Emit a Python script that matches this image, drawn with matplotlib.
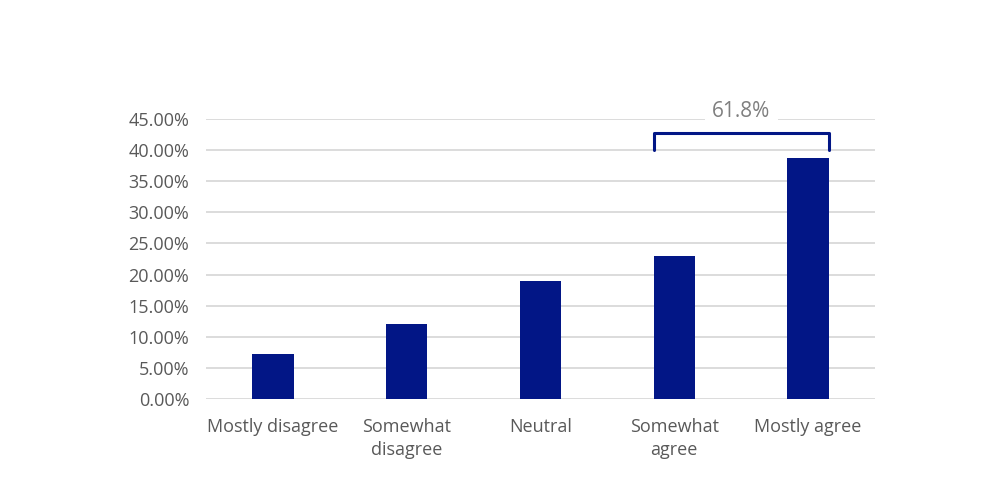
import matplotlib
matplotlib.use("Agg")
import matplotlib.pyplot as plt
from matplotlib.ticker import FuncFormatter

categories = ["Mostly disagree", "Somewhat\ndisagree", "Neutral", "Somewhat\nagree", "Mostly agree"]
values = [7.2, 12.0, 19.0, 23.0, 38.8]
bracket_label = "61.8%"

navy = "#021686"
gray = "#595959"
grid = "#D9D9D9"

plt.rcParams['font.family'] = ['Open Sans', 'DejaVu Sans']

fig = plt.figure(figsize=(10, 5), dpi=100)
ax = fig.add_axes([0.206, 0.202, 0.669, 0.56])
x = list(range(len(categories)))
bw = 0.31
ax.bar(x, values, width=bw, color=navy, zorder=3)
ax.set_xlim(-0.5, len(categories) - 0.5)
ax.set_ylim(0, 45)
ax.set_yticks([i * 5 for i in range(10)])
ax.yaxis.set_major_formatter(FuncFormatter(lambda v, p: f"{v:.2f}%"))
ax.set_xticks(x)
ax.set_xticklabels(categories, fontsize=13, color=gray, linespacing=1.3)
ax.tick_params(axis='y', labelsize=13, labelcolor=gray, length=0, pad=12)
ax.tick_params(axis='x', length=0, pad=14)
ax.grid(axis='y', color=grid, linewidth=1.3, zorder=0)
for s in ax.spines.values():
    s.set_visible(False)

# bracket over the two agree bars
x0 = 3 - bw / 2
x1 = 4 + bw / 2
ytop = 42.8
ybot = 40.0
ax.plot([x0, x0, x1, x1], [ybot, ytop, ytop, ybot], color=navy, linewidth=2.2,
        solid_joinstyle='round', solid_capstyle='round', zorder=4, clip_on=False)
ax.text((x0 + x1) / 2, 46.2, bracket_label, ha='center', va='center', fontsize=15,
        color="#7F7F7F", zorder=3,
        bbox=dict(boxstyle='square,pad=0.35', facecolor='white', edgecolor='none'))

fig.savefig("out.png", dpi=100, facecolor='white')
